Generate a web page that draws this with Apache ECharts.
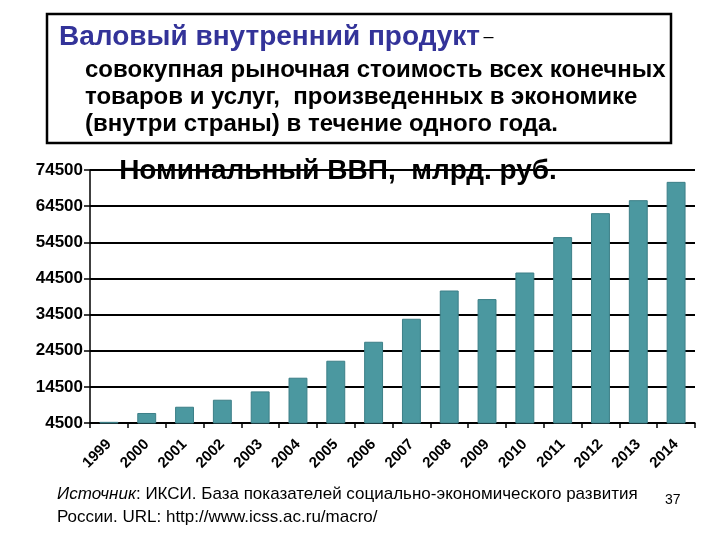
<!DOCTYPE html>
<html><head><meta charset="utf-8">
<script src="https://cdn.jsdelivr.net/npm/echarts@6/dist/echarts.min.js"></script>
<style>html,body{margin:0;padding:0;background:#fff}#c{width:720px;height:540px}</style>
</head><body><div id="c"></div>
<script>
const years = ['1999','2000','2001','2002','2003','2004','2005','2006','2007','2008','2009','2010','2011','2012','2013','2014'];
const gdp = [4823, 7270, 9000, 10940, 13240, 17030, 21730, 26980, 33340, 41160, 38790, 46140, 55930, 62560, 66160, 71220];
const yTicks = {min: 4500, max: 74500, interval: 10000};
const chartTitle = 'Номинальный ВВП,  млрд. руб.';
const defTerm = 'Валовый внутренний продукт';
const defLines = ['совокупная рыночная стоимость всех конечных', 'товаров и услуг,  произведенных в экономике', '(внутри страны) в течение одного года.'];
const sourceItalic = 'Источник';
const sourceRest = ': ИКСИ. База показателей социально-экономического развития';
const sourceLine2 = 'России. URL: http://www.icss.ac.ru/macro/';
const pageNum = '37';

const FONT = '"Liberation Sans", Arial, sans-serif';
const chart = echarts.init(document.getElementById('c'), null, {renderer: 'canvas'});
chart.setOption({
  animation: false,
  backgroundColor: '#fff',
  title: {
    text: chartTitle, left: 333, top: 152, textAlign: 'center',
    textStyle: {fontFamily: FONT, fontSize: 28, fontWeight: 'bold', color: '#000'}
  },
  grid: {left: 90, right: 25, top: 170, bottom: 117, containLabel: false},
  xAxis: {
    type: 'category', data: years,
    axisLine: {lineStyle: {color: '#000', width: 1.5}},
    axisTick: {show: true, alignWithLabel: false, length: 5, lineStyle: {color: '#000', width: 1.5}},
    axisLabel: {rotate: 45, interval: 0, margin: 19, fontFamily: FONT, fontSize: 15, fontWeight: 'bold', color: '#000'}
  },
  yAxis: {
    type: 'value', min: yTicks.min, max: yTicks.max, interval: yTicks.interval,
    axisLine: {show: true, lineStyle: {color: '#000', width: 1.5}},
    axisTick: {show: true, length: 6, lineStyle: {color: '#000', width: 1.5}},
    axisLabel: {margin: 7, fontFamily: FONT, fontSize: 17, fontWeight: 'bold', color: '#000',
      formatter: v => String(v)},
    splitLine: {show: true, lineStyle: {color: '#000', width: 2}}
  },
  series: [{
    type: 'bar', data: gdp, barWidth: '50%',
    itemStyle: {color: '#4B98A0', borderColor: '#3C7F87', borderWidth: 1}
  }],
  graphic: [
    {type: 'rect', shape: {x: 47, y: 14, width: 624, height: 129},
     style: {fill: '#fff', stroke: '#000', lineWidth: 2.5}},
    {type: 'text', x: 59, y: 37,
     style: {text: '{a|' + defTerm + '} {b|–}', verticalAlign: 'middle',
       rich: {a: {fontFamily: FONT, fontSize: 28, fontWeight: 'bold', fill: '#333399'},
              b: {fontFamily: FONT, fontSize: 18, fill: '#000'}}}},
    {type: 'text', x: 85, y: 70, style: {text: defLines[0], verticalAlign: 'middle', font: 'bold 24px ' + FONT, fill: '#000'}},
    {type: 'text', x: 85, y: 97, style: {text: defLines[1], verticalAlign: 'middle', font: 'bold 24px ' + FONT, fill: '#000'}},
    {type: 'text', x: 85, y: 124, style: {text: defLines[2], verticalAlign: 'middle', font: 'bold 24px ' + FONT, fill: '#000'}},
    {type: 'text', x: 57, y: 494,
     style: {text: '{i|' + sourceItalic + '}{r|' + sourceRest + '}', verticalAlign: 'middle',
       rich: {i: {fontFamily: FONT, fontSize: 17, fontStyle: 'italic', fill: '#000'},
              r: {fontFamily: FONT, fontSize: 17, fill: '#000'}}}},
    {type: 'text', x: 57, y: 517, style: {text: sourceLine2, verticalAlign: 'middle', font: '17px ' + FONT, fill: '#000'}},
    {type: 'text', x: 665, y: 500, style: {text: pageNum, verticalAlign: 'middle', font: '14px ' + FONT, fill: '#000'}}
  ]
});
</script></body></html>
